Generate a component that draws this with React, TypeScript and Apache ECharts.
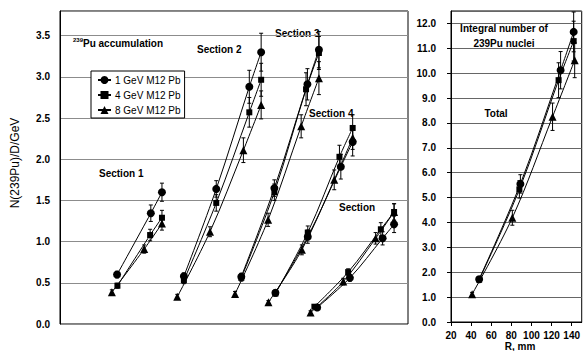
import React, { useEffect, useRef } from "react";
import * as echarts from "echarts";

// ---- Left panel: relative position along each section (arbitrary units, 0..100) ----
const sectionOfPoint = [1, 1, 1, 2, 2, 2, 2, 3, 3, 3, 3, 4, 4, 4, 4, 5, 5, 5, 5];

const pos1GeV = [16.4, 26.1, 29.3, 35.6, 44.9, 54.4, 57.8, 52.1, 61.6, 71.1, 74.4, 61.9, 71.2, 80.7, 84.1, 73.9, 83.3, 92.7, 96.0];
const val1GeV = [0.60, 1.345, 1.60, 0.58, 1.64, 2.88, 3.30, 0.575, 1.65, 2.91, 3.33, 0.38, 1.06, 1.91, 2.21, 0.20, 0.56, 1.04, 1.21];
const err1GeV = [0.04, 0.1, 0.11, 0.04, 0.1, 0.2, 0.23, 0.04, 0.1, 0.19, 0.22, 0.03, 0.08, 0.15, 0.17, 0.02, 0.04, 0.08, 0.1];

const pos4GeV = [16.5, 25.9, 29.3, 35.6, 44.9, 54.4, 57.8, 52.1, 61.6, 70.7, 74.4, 61.9, 71.2, 80.3, 84.1, 73.1, 82.8, 92.2, 96.0];
const val4GeV = [0.465, 1.08, 1.29, 0.53, 1.47, 2.57, 2.965, 0.56, 1.60, 2.85, 3.29, 0.37, 1.11, 2.03, 2.38, 0.21, 0.63, 1.15, 1.36];
const err4GeV = [0.03, 0.07, 0.09, 0.04, 0.1, 0.18, 0.2, 0.04, 0.1, 0.2, 0.2, 0.03, 0.08, 0.14, 0.16, 0.02, 0.04, 0.08, 0.1];

const pos8GeV = [14.9, 24.2, 29.3, 33.7, 43.1, 52.7, 57.8, 50.3, 59.8, 69.3, 74.4, 59.9, 69.5, 78.8, 84.1, 72.0, 81.4, 90.7, 96.0];
const val8GeV = [0.385, 0.91, 1.22, 0.33, 1.12, 2.11, 2.66, 0.365, 1.265, 2.40, 2.985, 0.265, 0.90, 1.75, 2.26, 0.14, 0.515, 1.04, 1.36];
const err8GeV = [0.03, 0.05, 0.08, 0.03, 0.06, 0.15, 0.17, 0.03, 0.08, 0.14, 0.2, 0.02, 0.06, 0.12, 0.14, 0.02, 0.04, 0.07, 0.1];

// ---- Right panel: integral number of 239Pu nuclei vs R, mm ----
const totR1GeV = [48, 89, 129, 142];
const tot1GeV = [1.72, 5.55, 10.12, 11.66];
const totErr1GeV = [0.1, 0.37, 0.75, 0.8];

const totR4GeV = [48, 88, 127, 142];
const tot4GeV = [1.70, 5.33, 9.72, 11.29];
const totErr4GeV = [0.1, 0.35, 0.7, 0.8];

const totR8GeV = [41, 81, 121, 143];
const tot8GeV = [1.12, 4.19, 8.25, 10.52];
const totErr8GeV = [0.07, 0.3, 0.55, 0.7];

const seriesNames = ["1 GeV M12 Pb", "4 GeV M12 Pb", "8 GeV M12 Pb"];
const symbols = ["circle", "rect", "triangle"];
const symbolSizes = [8, 6, 8];

const FONT = "'Liberation Sans', Arial, sans-serif";

function segmented(xs: number[], ys: number[]) {
  const out: any[] = [];
  for (let i = 0; i < xs.length; i++) {
    if (i > 0 && sectionOfPoint[i] !== sectionOfPoint[i - 1]) out.push("-");
    out.push([xs[i], ys[i]]);
  }
  return out;
}

function triples(xs: number[], ys: number[], es: number[]) {
  return xs.map((x, i) => [x, ys[i], es[i]]);
}

const renderErr = (params: any, api: any) => {
  const x = api.value(0);
  const y = api.value(1);
  const e = api.value(2);
  const p1 = api.coord([x, y + e]);
  const p2 = api.coord([x, y - e]);
  const w = 2;
  const st = { stroke: "#000", lineWidth: 1 };
  return {
    type: "group",
    children: [
      { type: "line", shape: { x1: p1[0], y1: p1[1], x2: p2[0], y2: p2[1] }, style: st },
      { type: "line", shape: { x1: p1[0] - w, y1: p1[1], x2: p1[0] + w, y2: p1[1] }, style: st },
      { type: "line", shape: { x1: p2[0] - w, y1: p2[1], x2: p2[0] + w, y2: p2[1] }, style: st },
    ],
  };
};

export default function App() {
  const ref = useRef<HTMLDivElement>(null);
  useEffect(() => {
    if (!ref.current) return;
    const chart = echarts.init(ref.current, undefined, { renderer: "svg" });

    const leftSets = [
      [pos1GeV, val1GeV, err1GeV],
      [pos4GeV, val4GeV, err4GeV],
      [pos8GeV, val8GeV, err8GeV],
    ];
    const rightSets = [
      [totR1GeV, tot1GeV, totErr1GeV],
      [totR4GeV, tot4GeV, totErr4GeV],
      [totR8GeV, tot8GeV, totErr8GeV],
    ];

    const series: any[] = [];
    leftSets.forEach((s, i) => {
      series.push({
        type: "custom",
        xAxisIndex: 0,
        yAxisIndex: 0,
        renderItem: renderErr,
        data: triples(s[0], s[1], s[2]),
        encode: { x: 0, y: 1 },
        z: 1,
        silent: true,
      });
    });
    rightSets.forEach((s, i) => {
      series.push({
        type: "custom",
        xAxisIndex: 1,
        yAxisIndex: 1,
        renderItem: renderErr,
        data: triples(s[0], s[1], s[2]),
        encode: { x: 0, y: 1 },
        z: 1,
        silent: true,
      });
    });
    leftSets.forEach((s, i) => {
      series.push({
        type: "line",
        name: seriesNames[i],
        xAxisIndex: 0,
        yAxisIndex: 0,
        data: segmented(s[0], s[1]),
        smooth: 0.35,
        symbol: symbols[i],
        symbolSize: symbolSizes[i],
        showSymbol: true,
        lineStyle: { color: "#000", width: 1 },
        itemStyle: { color: "#000" },
        z: 3,
      });
    });
    rightSets.forEach((s, i) => {
      series.push({
        type: "line",
        name: seriesNames[i],
        xAxisIndex: 1,
        yAxisIndex: 1,
        data: s[0].map((x, j) => [x, s[1][j]]),
        smooth: 0.35,
        symbol: symbols[i],
        symbolSize: symbolSizes[i],
        showSymbol: true,
        lineStyle: { color: "#000", width: 1 },
        itemStyle: { color: "#000" },
        z: 3,
      });
    });

    const boldTxt = (text: string, x: number, y: number, align = "left") => ({
      type: "text",
      x,
      y,
      style: {
        text,
        font: `bold 10px ${FONT}`,
        fill: "#000",
        align,
        verticalAlign: "middle",
      },
    });

    chart.setOption({
      animation: false,
      backgroundColor: "#fff",
      textStyle: { fontFamily: FONT },
      grid: [
        { left: 60, top: 11, width: 348, height: 313, show: true, borderColor: "#000", borderWidth: 1, backgroundColor: "transparent" },
        { left: 451, top: 11, width: 132, height: 311, show: true, borderColor: "#000", borderWidth: 1, backgroundColor: "transparent" },
      ],
      xAxis: [
        { type: "value", gridIndex: 0, min: 0, max: 100, show: false, splitLine: { show: false } },
        {
          type: "value",
          gridIndex: 1,
          min: 20,
          max: 150,
          interval: 20,
          axisLine: { show: true, onZero: false, lineStyle: { color: "#000" } },
          axisTick: { show: true, length: 4, inside: false, lineStyle: { color: "#000" } },
          axisLabel: { showMaxLabel: false, margin: 8, color: "#000", fontWeight: "bold", fontSize: 10, fontFamily: FONT },
          splitLine: { show: false },
        },
      ],
      yAxis: [
        {
          type: "value",
          gridIndex: 0,
          min: 0,
          max: 3.8,
          interval: 0.5,
          axisLine: { show: true, lineStyle: { color: "#000" } },
          axisTick: { show: false },
          axisLabel: {
            showMaxLabel: false,
            margin: 10,
            color: "#000",
            fontWeight: "bold",
            fontSize: 10,
            fontFamily: FONT,
            formatter: (v: number) => v.toFixed(1),
          },
          splitLine: { show: true, lineStyle: { color: "#8c8c8c", width: 1 } },
        },
        {
          type: "value",
          gridIndex: 1,
          min: 0,
          max: 12.5,
          interval: 1,
          axisLine: { show: true, lineStyle: { color: "#000" } },
          axisTick: { show: true, length: 4, inside: false, lineStyle: { color: "#000" } },
          axisLabel: {
            showMaxLabel: false,
            margin: 15,
            color: "#000",
            fontWeight: "bold",
            fontSize: 10,
            fontFamily: FONT,
            formatter: (v: number) => v.toFixed(1),
          },
          splitLine: { show: true, lineStyle: { color: "#666", width: 1 } },
        },
      ],
      legend: {
        data: seriesNames,
        orient: "vertical",
        left: 91,
        top: 71,
        width: 89,
        padding: [4, 4, 3, 6],
        itemGap: 5,
        itemWidth: 13,
        itemHeight: 10,
        backgroundColor: "#fff",
        borderColor: "#000",
        borderWidth: 1,
        borderRadius: 0,
        textStyle: { color: "#000", fontSize: 10, fontFamily: FONT, padding: [0, 0, 0, -1] },
        selectedMode: false,
      },
      graphic: [
        {
          type: "text",
          x: 15,
          y: 163,
          rotation: Math.PI / 2,
          style: {
            text: "N(239Pu)/D/GeV",
            font: `12px ${FONT}`,
            fill: "#000",
            align: "center",
            verticalAlign: "middle",
          },
        },
        {
          type: "text",
          x: 73,
          y: 43,
          style: {
            text: "{s|239}{b|Pu accumulation}",
            rich: {
              s: { font: `bold 6px ${FONT}`, fill: "#000", verticalAlign: "bottom", padding: [0, 0, 6, 0] },
              b: { font: `bold 10px ${FONT}`, fill: "#000" },
            },
            verticalAlign: "middle",
          },
        },
        boldTxt("Section 2", 197, 49),
        boldTxt("Section 3", 275, 33),
        boldTxt("Section 1", 99, 173),
        boldTxt("Section 4", 309, 113),
        boldTxt("Section", 339, 207),
        boldTxt("Integral number of", 504, 28, "center"),
        boldTxt("239Pu nuclei", 504, 43, "center"),
        boldTxt("Total", 496, 113, "center"),
        boldTxt("R, mm", 520, 346, "center"),
      ],
      series,
    });
    return () => chart.dispose();
  }, []);
  return (
    <div
      ref={ref}
      style={{ position: "fixed", left: 0, top: 0, width: 583, height: 351 }}
    />
  );
}
